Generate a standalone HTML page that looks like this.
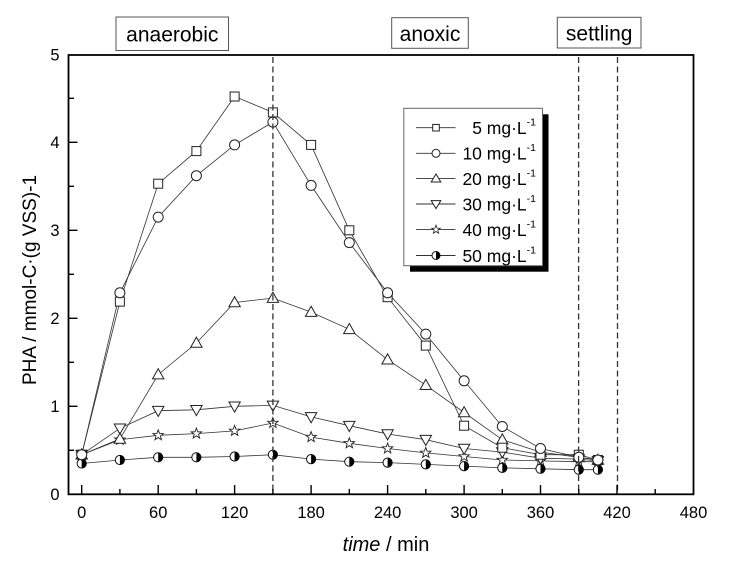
<!DOCTYPE html>
<html><head><meta charset="utf-8"><style>
html,body{margin:0;padding:0;background:#fff;}
svg{display:block;}
text{font-family:"Liberation Sans",Arial,sans-serif;fill:#000;}
</style></head><body>
<svg width="729" height="565" viewBox="0 0 729 565" xmlns="http://www.w3.org/2000/svg">
<defs>
<g id="sq"><rect x="-4.5" y="-4.5" width="9" height="9" fill="#fff" stroke="#222" stroke-width="1"/></g>
<g id="ci"><circle r="5" fill="#fff" stroke="#222" stroke-width="1"/></g>
<g id="tu"><polygon points="0,-5.8 5.7,4.3 -5.7,4.3" fill="#fff" stroke="#222" stroke-width="1"/></g>
<g id="td"><polygon points="0,5.8 5.7,-4.3 -5.7,-4.3" fill="#fff" stroke="#222" stroke-width="1"/></g>
<g id="st"><polygon points="0,-5.5 1.35,-1.85 5.23,-1.7 2.18,0.71 3.23,4.45 0,2.3 -3.23,4.45 -2.18,0.71 -5.23,-1.7 -1.35,-1.85" fill="#fff" stroke="#222" stroke-width="0.9"/></g>
<g id="hc"><circle r="4.6" fill="#fff" stroke="#111" stroke-width="1"/><path d="M0,-4.6 A4.6,4.6 0 0 1 0,4.6 Z" fill="#000"/></g>
<g id="lsq"><rect x="-3.3" y="-3.3" width="6.6" height="6.6" fill="#fff" stroke="#222" stroke-width="1"/></g>
<g id="lci"><circle r="4" fill="#fff" stroke="#222" stroke-width="1"/></g>
<g id="ltu"><polygon points="0,-4.6 4.8,3.4 -4.8,3.4" fill="#fff" stroke="#222" stroke-width="1"/></g>
<g id="ltd"><polygon points="0,4.6 4.8,-3.4 -4.8,-3.4" fill="#fff" stroke="#222" stroke-width="1"/></g>
<g id="lst"><polygon points="0,-4.5 1.1,-1.5 4.28,-1.39 1.78,0.58 2.65,3.64 0,1.9 -2.65,3.64 -1.78,0.58 -4.28,-1.39 -1.1,-1.5" fill="#fff" stroke="#222" stroke-width="0.8"/></g>
<g id="lhc"><circle r="4" fill="#fff" stroke="#111" stroke-width="1"/><path d="M0,-4 A4,4 0 0 1 0,4 Z" fill="#000"/></g>
</defs>

<rect x="116" y="17" width="112.5" height="33.5" fill="#fff" stroke="#555" stroke-width="1"/>
<text x="172.3" y="41.5" font-size="21" text-anchor="middle">anaerobic</text>
<rect x="391.7" y="17.7" width="76.6" height="30.6" fill="#fff" stroke="#555" stroke-width="1"/>
<text x="430" y="40.8" font-size="21" text-anchor="middle">anoxic</text>
<rect x="557.3" y="17.3" width="83.7" height="30.7" fill="#fff" stroke="#555" stroke-width="1"/>
<text x="599.2" y="40.5" font-size="21" text-anchor="middle">settling</text>

<g fill="none" stroke="#333" stroke-width="0.8">
<polyline points="81.7,454.7 119.9,301.6 158.2,183.7 196.4,151.1 234.6,96.5 272.9,112.4 311.1,144.9 349.3,230.3 387.6,297.2 425.8,345.6 464.1,425.7 502.3,447.7 540.5,454.7 578.8,454.7 597.9,460.0"/>
<polyline points="81.7,454.7 119.9,292.8 158.2,217.1 196.4,175.7 234.6,144.9 272.9,122.1 311.1,185.4 349.3,242.6 387.6,292.8 425.8,334.1 464.1,380.8 502.3,426.5 540.5,448.5 578.8,457.3 597.9,460.0"/>
<polyline points="81.7,454.7 119.9,438.9 158.2,374.6 196.4,343.0 234.6,302.5 272.9,298.1 311.1,312.1 349.3,329.3 387.6,359.7 425.8,385.2 464.1,412.5 502.3,439.7 540.5,452.1 578.8,457.3 597.9,460.0"/>
<polyline points="81.7,454.7 119.9,428.3 158.2,410.7 196.4,409.8 234.6,406.3 272.9,405.4 311.1,416.9 349.3,425.7 387.6,434.0 425.8,439.7 464.1,448.5 502.3,452.1 540.5,458.2 578.8,459.1 597.9,460.9"/>
<polyline points="81.7,454.7 119.9,439.7 158.2,435.3 196.4,433.6 234.6,430.9 272.9,423.0 311.1,437.1 349.3,443.3 387.6,448.5 425.8,452.9 464.1,456.5 502.3,460.0 540.5,460.9 578.8,461.7 597.9,461.7"/>
<polyline points="81.7,463.5 119.9,460.0 158.2,457.3 196.4,457.3 234.6,456.5 272.9,454.7 311.1,459.1 349.3,461.7 387.6,462.6 425.8,464.4 464.1,466.1 502.3,467.9 540.5,468.8 578.8,469.7 597.9,469.7"/>
</g>

<use href="#hc" x="81.7" y="463.5"/><use href="#hc" x="119.9" y="460.0"/><use href="#hc" x="158.2" y="457.3"/><use href="#hc" x="196.4" y="457.3"/><use href="#hc" x="234.6" y="456.5"/><use href="#hc" x="272.9" y="454.7"/><use href="#hc" x="311.1" y="459.1"/><use href="#hc" x="349.3" y="461.7"/><use href="#hc" x="387.6" y="462.6"/><use href="#hc" x="425.8" y="464.4"/><use href="#hc" x="464.1" y="466.1"/><use href="#hc" x="502.3" y="467.9"/><use href="#hc" x="540.5" y="468.8"/><use href="#hc" x="578.8" y="469.7"/><use href="#hc" x="597.9" y="469.7"/>
<use href="#st" x="81.7" y="454.7"/><use href="#st" x="119.9" y="439.7"/><use href="#st" x="158.2" y="435.3"/><use href="#st" x="196.4" y="433.6"/><use href="#st" x="234.6" y="430.9"/><use href="#st" x="272.9" y="423.0"/><use href="#st" x="311.1" y="437.1"/><use href="#st" x="349.3" y="443.3"/><use href="#st" x="387.6" y="448.5"/><use href="#st" x="425.8" y="452.9"/><use href="#st" x="464.1" y="456.5"/><use href="#st" x="502.3" y="460.0"/><use href="#st" x="540.5" y="460.9"/><use href="#st" x="578.8" y="461.7"/><use href="#st" x="597.9" y="461.7"/>
<use href="#td" x="81.7" y="454.7"/><use href="#td" x="119.9" y="428.3"/><use href="#td" x="158.2" y="410.7"/><use href="#td" x="196.4" y="409.8"/><use href="#td" x="234.6" y="406.3"/><use href="#td" x="272.9" y="405.4"/><use href="#td" x="311.1" y="416.9"/><use href="#td" x="349.3" y="425.7"/><use href="#td" x="387.6" y="434.0"/><use href="#td" x="425.8" y="439.7"/><use href="#td" x="464.1" y="448.5"/><use href="#td" x="502.3" y="452.1"/><use href="#td" x="540.5" y="458.2"/><use href="#td" x="578.8" y="459.1"/><use href="#td" x="597.9" y="460.9"/>
<use href="#tu" x="81.7" y="454.7"/><use href="#tu" x="119.9" y="438.9"/><use href="#tu" x="158.2" y="374.6"/><use href="#tu" x="196.4" y="343.0"/><use href="#tu" x="234.6" y="302.5"/><use href="#tu" x="272.9" y="298.1"/><use href="#tu" x="311.1" y="312.1"/><use href="#tu" x="349.3" y="329.3"/><use href="#tu" x="387.6" y="359.7"/><use href="#tu" x="425.8" y="385.2"/><use href="#tu" x="464.1" y="412.5"/><use href="#tu" x="502.3" y="439.7"/><use href="#tu" x="540.5" y="452.1"/><use href="#tu" x="578.8" y="457.3"/><use href="#tu" x="597.9" y="460.0"/>
<use href="#sq" x="81.7" y="454.7"/><use href="#sq" x="119.9" y="301.6"/><use href="#sq" x="158.2" y="183.7"/><use href="#sq" x="196.4" y="151.1"/><use href="#sq" x="234.6" y="96.5"/><use href="#sq" x="272.9" y="112.4"/><use href="#sq" x="311.1" y="144.9"/><use href="#sq" x="349.3" y="230.3"/><use href="#sq" x="387.6" y="297.2"/><use href="#sq" x="425.8" y="345.6"/><use href="#sq" x="464.1" y="425.7"/><use href="#sq" x="502.3" y="447.7"/><use href="#sq" x="540.5" y="454.7"/><use href="#sq" x="578.8" y="454.7"/><use href="#sq" x="597.9" y="460.0"/>
<use href="#ci" x="81.7" y="454.7"/><use href="#ci" x="119.9" y="292.8"/><use href="#ci" x="158.2" y="217.1"/><use href="#ci" x="196.4" y="175.7"/><use href="#ci" x="234.6" y="144.9"/><use href="#ci" x="272.9" y="122.1"/><use href="#ci" x="311.1" y="185.4"/><use href="#ci" x="349.3" y="242.6"/><use href="#ci" x="387.6" y="292.8"/><use href="#ci" x="425.8" y="334.1"/><use href="#ci" x="464.1" y="380.8"/><use href="#ci" x="502.3" y="426.5"/><use href="#ci" x="540.5" y="448.5"/><use href="#ci" x="578.8" y="457.3"/><use href="#ci" x="597.9" y="460.0"/>

<g stroke="#333" stroke-width="1.3" stroke-dasharray="6,3.5" fill="none">
<line x1="272.9" y1="57" x2="272.9" y2="494"/>
<line x1="578.6" y1="57" x2="578.6" y2="494"/>
<line x1="617.5" y1="57" x2="617.5" y2="494"/>
</g>

<rect x="410" y="114.3" width="138.5" height="157.4" fill="#000"/>
<rect x="403.8" y="108.3" width="138.7" height="157.4" fill="#fff" stroke="#666" stroke-width="1"/>
<g stroke="#333" stroke-width="0.9">
<line x1="416" y1="127.7" x2="455.5" y2="127.7"/>
<line x1="416" y1="153.3" x2="455.5" y2="153.3"/>
<line x1="416" y1="178.6" x2="455.5" y2="178.6"/>
<line x1="416" y1="204" x2="455.5" y2="204"/>
<line x1="416" y1="229.6" x2="455.5" y2="229.6"/>
<line x1="416" y1="255.5" x2="455.5" y2="255.5"/>
</g>
<use href="#lsq" x="436" y="127.7"/>
<use href="#lci" x="436" y="153.3"/>
<use href="#ltu" x="436" y="178.6"/>
<use href="#ltd" x="436" y="204"/>
<use href="#lst" x="436" y="229.6"/>
<use href="#lhc" x="436" y="255.5"/>
<g font-size="17.5" text-anchor="end">
<text x="536" y="134">5 mg·L<tspan font-size="10.5" dy="-8.5">-1</tspan></text>
<text x="536" y="159.6">10 mg·L<tspan font-size="10.5" dy="-8.5">-1</tspan></text>
<text x="536" y="184.9">20 mg·L<tspan font-size="10.5" dy="-8.5">-1</tspan></text>
<text x="536" y="210.3">30 mg·L<tspan font-size="10.5" dy="-8.5">-1</tspan></text>
<text x="536" y="235.9">40 mg·L<tspan font-size="10.5" dy="-8.5">-1</tspan></text>
<text x="536" y="261.8">50 mg·L<tspan font-size="10.5" dy="-8.5">-1</tspan></text>
</g>

<rect x="68.5" y="55" width="625" height="439.3" fill="none" stroke="#000" stroke-width="1.8"/>

<g stroke="#000" stroke-width="1.4">
<line x1="81.7" y1="494" x2="81.7" y2="485"/>
<line x1="158.2" y1="494" x2="158.2" y2="485"/>
<line x1="234.6" y1="494" x2="234.6" y2="485"/>
<line x1="311.1" y1="494" x2="311.1" y2="485"/>
<line x1="387.6" y1="494" x2="387.6" y2="485"/>
<line x1="464.1" y1="494" x2="464.1" y2="485"/>
<line x1="540.5" y1="494" x2="540.5" y2="485"/>
<line x1="617.0" y1="494" x2="617.0" y2="485"/>
<line x1="119.9" y1="494" x2="119.9" y2="489"/>
<line x1="196.4" y1="494" x2="196.4" y2="489"/>
<line x1="272.9" y1="494" x2="272.9" y2="489"/>
<line x1="349.3" y1="494" x2="349.3" y2="489"/>
<line x1="425.8" y1="494" x2="425.8" y2="489"/>
<line x1="502.3" y1="494" x2="502.3" y2="489"/>
<line x1="578.8" y1="494" x2="578.8" y2="489"/>
<line x1="655.2" y1="494" x2="655.2" y2="489"/>
</g>
<g stroke="#000" stroke-width="1.4">
<line x1="68.5" y1="494.3" x2="77.5" y2="494.3"/>
<line x1="68.5" y1="406.3" x2="77.5" y2="406.3"/>
<line x1="68.5" y1="318.3" x2="77.5" y2="318.3"/>
<line x1="68.5" y1="230.3" x2="77.5" y2="230.3"/>
<line x1="68.5" y1="142.3" x2="77.5" y2="142.3"/>
<line x1="68.5" y1="450.3" x2="74" y2="450.3"/>
<line x1="68.5" y1="362.3" x2="74" y2="362.3"/>
<line x1="68.5" y1="274.3" x2="74" y2="274.3"/>
<line x1="68.5" y1="186.3" x2="74" y2="186.3"/>
<line x1="68.5" y1="98.3" x2="74" y2="98.3"/>
</g>

<g font-size="16.5" text-anchor="middle">
<text x="81.7" y="518">0</text>
<text x="158.2" y="518">60</text>
<text x="234.6" y="518">120</text>
<text x="311.1" y="518">180</text>
<text x="387.6" y="518">240</text>
<text x="464.1" y="518">300</text>
<text x="540.5" y="518">360</text>
<text x="617.0" y="518">420</text>
<text x="693.5" y="518">480</text>
</g>
<g font-size="16.5" text-anchor="end">
<text x="59.5" y="500">0</text>
<text x="59.5" y="412">1</text>
<text x="59.5" y="324">2</text>
<text x="59.5" y="236">3</text>
<text x="59.5" y="148">4</text>
<text x="59.5" y="60.5">5</text>
</g>

<text x="386" y="551" font-size="20" text-anchor="middle"><tspan font-style="italic">time</tspan> / min</text>
<text transform="translate(36,280) rotate(-90)" font-size="19" text-anchor="middle">PHA / mmol-C·(g VSS)-1</text>
</svg>
</body></html>
